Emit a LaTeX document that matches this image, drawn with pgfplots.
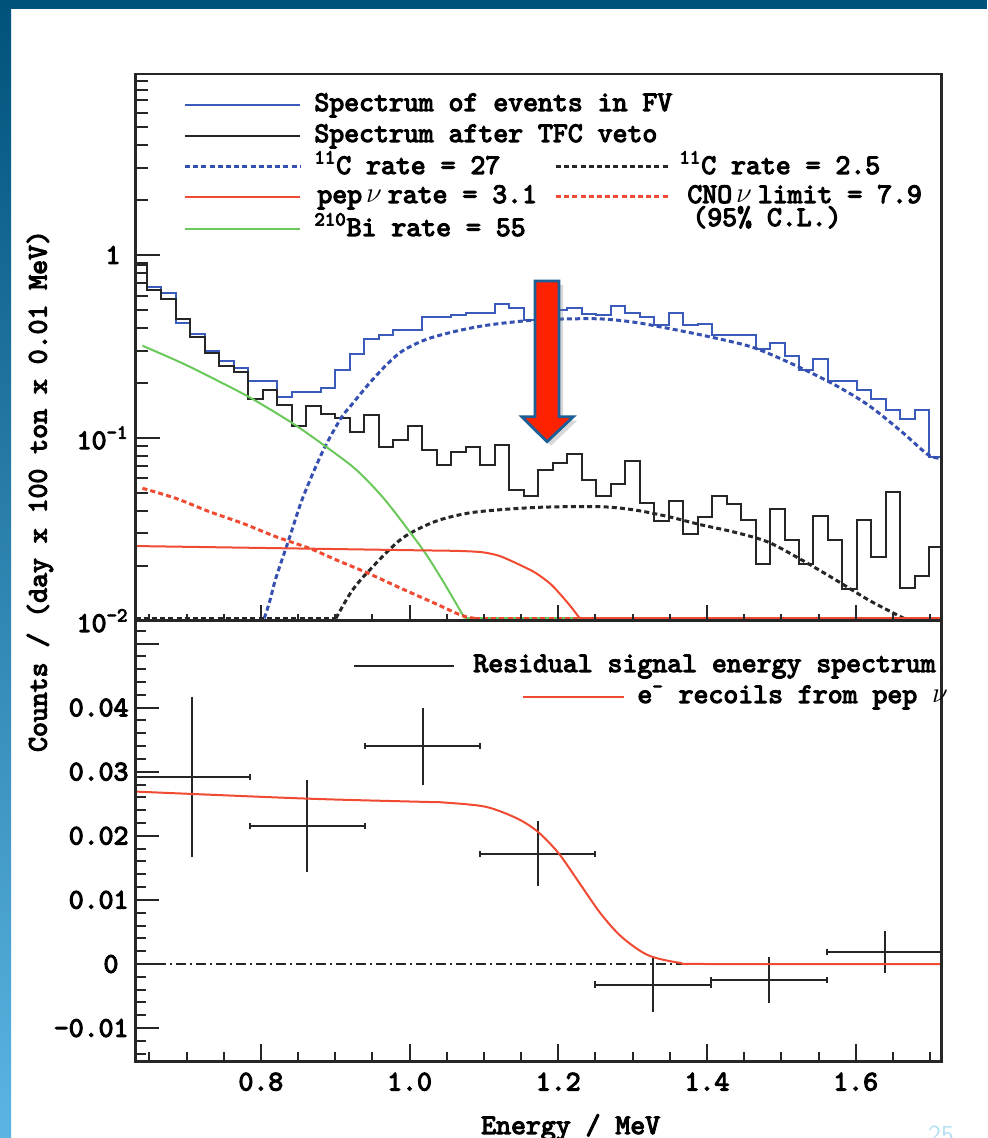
\documentclass[border=0pt]{standalone}
\usepackage{fontspec}
\usepackage{pgfplots}
\pgfplotsset{compat=1.18}
\usepackage{pgfplotstable}
\usetikzlibrary{shadows}

\newfontfamily\rootmono{lmmono10-regular.otf}[FakeBold=4]

\definecolor{fvblue}{HTML}{3B5BBA}
\definecolor{cblue}{HTML}{3550B0}
\definecolor{peprd}{HTML}{F04A32}
\definecolor{bigreen}{HTML}{6BC85A}
\definecolor{slide}{HTML}{00527C}
\definecolor{slidelt}{HTML}{5BB4E2}
\definecolor{arrowred}{HTML}{FF2200}
\definecolor{arrowedge}{HTML}{1C5E96}
\definecolor{pagenum}{HTML}{B5DFF3}

\newcommand\rf{\fontsize{14.2}{16}\selectfont\rootmono}
\newcommand\nuu{{\normalfont$\nu$}}
\newcommand\tsup[1]{\smash{\textsuperscript{#1}}}

% bin left edge, spectrum in FV, spectrum after TFC veto
\pgfplotstableread{
x      fv      tfc
0.6273 0.880   0.880
0.6468 0.671   0.644
0.6663 0.617   0.575
0.6858 0.423   0.445
0.7053 0.372   0.355
0.7248 0.2985  0.290
0.7442 0.263   0.248
0.7637 0.242   0.228
0.7832 0.2046  0.163
0.8027 0.2046  0.183
0.8222 0.168   0.151
0.8417 0.1775  0.1165
0.8612 0.1775  0.150
0.8807 0.188   0.1345
0.9001 0.235   0.129
0.9196 0.2864  0.108
0.9391 0.346   0.1334
0.9586 0.365   0.0895
0.9781 0.389   0.0973
0.9976 0.389   0.1166
1.0171 0.460   0.0858
1.0366 0.460   0.0710
1.0560 0.470   0.0840
1.0755 0.484   0.0895
1.0950 0.484   0.0710
1.1145 0.537   0.0914
1.1340 0.515   0.0519
1.1535 0.441   0.0483
1.1730 0.490   0.0667
1.1925 0.500   0.0726
1.2120 0.515   0.0813
1.2314 0.476   0.0588
1.2509 0.470   0.0483
1.2704 0.526   0.0557
1.2899 0.480   0.0747
1.3094 0.460   0.0439
1.3289 0.414   0.0351
1.3484 0.484   0.0453
1.3679 0.414   0.0297
1.3873 0.419   0.0371
1.4068 0.365   0.0483
1.4263 0.365   0.0433
1.4458 0.365   0.0355
1.4653 0.305   0.0203
1.4848 0.329   0.0407
1.5043 0.280   0.0276
1.5238 0.235   0.0203
1.5432 0.269   0.0374
1.5627 0.2053  0.0276
1.5822 0.2053  0.0149
1.6017 0.1827  0.0355
1.6212 0.163   0.0224
1.6407 0.142   0.0508
1.6602 0.1268  0.01504
1.6797 0.142   0.01762
1.6992 0.0789  0.0254
1.7186 0.0789  0.0254
}\hist

% residual spectrum: centre, value, half width, error
\pgfplotstableread{
x      y        ex     ey
0.7080 0.0292   0.0776 0.0121
0.8626 0.0215   0.0776 0.0068
1.0175 0.0340   0.0776 0.0056
1.1724 0.0172   0.0776 0.0047
1.3272 -0.0032  0.0776 0.0039
1.4834 -0.0025  0.0776 0.0032
1.6391 0.0019   0.0776 0.0029
}\resid

\tikzset{dots/.style={line width=1.5pt, dash pattern=on 2.5pt off 1.6pt}}
\pgfplotsset{rootax/.style={scale only axis, width=403.1pt, anchor=south west,
  xmin=0.6314, xmax=1.7157, tick align=inside, tick pos=left,
  axis line style={line width=1.3pt, black!85}, tick style={line width=1pt, black!85},
  tick label style={font=\rf}}}

\begin{document}
\begin{tikzpicture}
\useasboundingbox (0,0) rectangle (493.5pt,569pt);
\fill[white] (0,0) rectangle (493.5pt,569pt);
\shade[top color=slide, bottom color=slidelt] (0,0) rectangle (5.5pt,569pt);
\fill[slide] (0,564.5pt) rectangle (493.5pt,569pt);

% upper pad
\begin{axis}[rootax, at={(67.75pt,258.65pt)}, height=273.35pt, axis on top,
  ymode=log, ymin=0.01, ymax=9.77, xtick=\empty,
  ytick={0.01,0.1,1}, yticklabels={10\textsuperscript{-2},10\textsuperscript{-1},1\kern4pt},
  minor ytick={0.02,0.03,0.04,0.05,0.06,0.07,0.08,0.09,0.2,0.3,0.4,0.5,0.6,0.7,0.8,0.9,2,3,4,5,6,7,8,9},
  major tick length=12.5pt, minor tick length=6.2pt]
\addplot[const plot, fvblue, line width=1pt] table[x=x,y=fv] {\hist};
\addplot[const plot, black!85, line width=1pt] table[x=x,y=tfc] {\hist};
% 11C, rate 27
\addplot[dots, cblue] coordinates {(0.6314,0.0103) (0.8046,0.0103)};
\addplot[dots, cblue, smooth] coordinates {(0.8046,0.0103) (0.8120,0.0128) (0.8202,0.0171) (0.8382,0.0282) (0.8561,0.0467) (0.8830,0.084) (0.9077,0.128) (0.9217,0.151) (0.9440,0.1946) (0.9665,0.245) (0.9890,0.296) (1.0203,0.343) (1.0563,0.378) (1.0921,0.4055) (1.1236,0.423) (1.1684,0.441) (1.2100,0.447) (1.2581,0.447) (1.3030,0.4285) (1.3478,0.397) (1.3927,0.365) (1.4510,0.322) (1.4824,0.290) (1.5273,0.240) (1.5722,0.1946) (1.6170,0.151) (1.6619,0.108) (1.6977,0.0806) (1.7157,0.0773)};
% 11C, rate 2.5
\addplot[dots, black!85] coordinates {(0.6314,0.0103) (0.9009,0.0103)};
\addplot[dots, black!85, smooth] coordinates {(0.9009,0.0103) (0.9217,0.0144) (0.9440,0.0185) (0.9890,0.0280) (1.0338,0.0348) (1.0780,0.0387) (1.1236,0.0405) (1.1820,0.0418) (1.2581,0.0420) (1.3030,0.0403) (1.3478,0.0371) (1.3927,0.0334) (1.4370,0.0305) (1.4824,0.0269) (1.5273,0.0215) (1.5722,0.0168) (1.6170,0.0130) (1.6510,0.0110) (1.6650,0.0103)};
\addplot[dots, black!85] coordinates {(1.6650,0.0103) (1.7157,0.0103)};
% 210Bi
\addplot[bigreen, line width=1pt, smooth] coordinates {(0.6408,0.319) (0.6946,0.2557) (0.7400,0.2072) (0.7871,0.1646) (0.8427,0.1201) (0.8875,0.0895) (0.9217,0.0705) (0.9440,0.0580) (0.9665,0.0460) (0.9890,0.0352) (1.0203,0.0237) (1.0428,0.0170) (1.0607,0.0128) (1.0742,0.0103)};
\addplot[bigreen, line width=1pt] coordinates {(1.0742,0.0103) (1.7157,0.0103)};
% CNO limit
\addplot[dots, peprd, smooth] coordinates {(0.6408,0.0530) (0.6856,0.0467) (0.7306,0.0395) (0.7754,0.0341) (0.8202,0.0288) (0.8651,0.0249) (0.9050,0.0212) (0.9440,0.0182) (0.9890,0.0150) (1.0338,0.01245) (1.0697,0.0107) (1.0876,0.0103)};
\addplot[dots, peprd] coordinates {(1.0876,0.0103) (1.7157,0.0103)};
% pep
\addplot[peprd, line width=1pt, smooth] coordinates {(0.6314,0.0256) (0.8000,0.0250) (1.0000,0.0243) (1.0600,0.0241) (1.0921,0.0238) (1.1080,0.0233) (1.1236,0.0224) (1.1505,0.0200) (1.1700,0.0182) (1.1909,0.0157) (1.2132,0.01245) (1.2290,0.0103)};
\addplot[peprd, line width=1pt] coordinates {(1.2290,0.0103) (1.7157,0.0103)};
\end{axis}
\begin{axis}[rootax, at={(67.75pt,258.65pt)}, height=273.35pt, ymin=0, ymax=1, ytick=\empty,
  xtick={0.8,1.0,1.2,1.4,1.6}, xticklabels={},
  minor xtick={0.65,0.7,0.75,0.85,0.9,0.95,1.05,1.1,1.15,1.25,1.3,1.35,1.45,1.5,1.55,1.65,1.7},
  major tick length=8pt, minor tick length=3.5pt]
\end{axis}

% lower pad
\begin{axis}[rootax, at={(67.75pt,38.15pt)}, height=220.5pt, axis on top,
  ymin=-0.01524, ymax=0.05356, xtick=\empty, scaled y ticks=false,
  ytick={-0.01,0,0.01,0.02,0.03,0.04,0.05},
  yticklabels={-0.01,0\kern5pt,0.01,0.02,0.03,0.04,{}},
  minor ytick={-0.014,-0.012,-0.008,-0.006,-0.004,-0.002,0.002,0.004,0.006,0.008,0.012,0.014,0.016,0.018,0.022,0.024,0.026,0.028,0.032,0.034,0.036,0.038,0.042,0.044,0.046,0.048,0.052},
  major tick length=12pt, minor tick length=5pt]
\addplot[black!85, line width=0.8pt, dash pattern=on 5pt off 2pt on 1pt off 2pt] coordinates {(0.6314,0) (1.7157,0)};
\addplot[black!85, only marks, mark=*, mark size=0pt,
  error bars/.cd, y dir=both, y explicit, error mark=-,
  error bar style={line width=1pt, black!85},
  error mark options={line width=1pt, black!85, mark size=1.3pt}]
  table[x=x, y=y, y error=ey] {\resid};
\addplot[black!85, only marks, mark=*, mark size=0pt,
  error bars/.cd, x dir=both, x explicit, error mark=|,
  error bar style={line width=1pt, black!85},
  error mark options={line width=1pt, black!85, mark size=1.6pt}]
  table[x=x, y=y, x error=ex] {\resid};
\addplot[peprd, line width=1pt, smooth, tension=0.5] coordinates {(0.6314,0.0269) (0.8626,0.0258) (1.0175,0.0253) (1.0456,0.0252) (1.1019,0.02454) (1.1442,0.02273) (1.1724,0.02064) (1.2005,0.01727) (1.2287,0.01259) (1.2568,0.0079) (1.2849,0.00426) (1.3202,0.0014) (1.3625,0.0002) (1.4000,0) (1.7157,0)};
\end{axis}
\begin{axis}[rootax, at={(67.75pt,38.15pt)}, height=220.5pt, ymin=0, ymax=1, ytick=\empty,
  xtick={0.8,1.0,1.2,1.4,1.6}, xticklabels={0.8,1.0,1.2,1.4,1.6},
  minor xtick={0.65,0.7,0.75,0.85,0.9,0.95,1.05,1.1,1.15,1.25,1.3,1.35,1.45,1.5,1.55,1.65,1.7},
  major tick length=9pt, minor tick length=5pt, xticklabel style={yshift=-2pt}]
\end{axis}

% legends, labels, arrow (coordinates in pixels of the reference)
\begin{scope}[x=0.5pt, y=-0.5pt, shift={(0,569pt)}, every node/.style={font=\rf, inner sep=0pt}]
\draw[fvblue, line width=1pt] (185,105) -- (300,105);
\node[anchor=base west] at (314,111) {Spectrum of events in FV};
\draw[black!85, line width=1pt] (185,136) -- (300,136);
\node[anchor=base west] at (314,142) {Spectrum after TFC veto};
\draw[cblue, dots] (185,167) -- (300,167);
\node[anchor=base west] at (314,174) {\tsup{11}C rate = 27};
\draw[black!85, dots] (556,167) -- (669,167);
\node[anchor=base west] at (679,174) {\tsup{11}C rate = 2.5};
\draw[peprd, line width=1pt] (185,197) -- (300,197);
\node[anchor=base west] at (317,203) {pep\kern2pt\nuu\kern3pt rate = 3.1};
\draw[peprd, dots] (556,197) -- (669,197);
\node[anchor=base west] at (687,203) {CNO\kern2pt\nuu\kern3pt limit = 7.9};
\draw[bigreen, line width=1pt] (185,229) -- (300,229);
\node[anchor=base west] at (314,236) {\tsup{210}Bi rate = 55};
\node[anchor=base west] at (692,226) {(95\% C.L.)};

\draw[black!85, line width=1pt] (354,666) -- (454,666);
\node[anchor=base west] at (473,672) {Residual signal energy spectrum};
\draw[peprd, line width=1pt] (523,697) -- (624,697);
\node[anchor=base west] at (637,703) {e\tsup{-} recoils from pep \nuu};

\node[anchor=base] at (570.7,1134) {Energy / MeV};
\node[rotate=90] at (40,491) {Counts / (day x 100 ton x 0.01 MeV)};

\draw[arrowedge, line width=1.4pt, fill=arrowred, drop shadow={opacity=0.3, shadow xshift=2pt, shadow yshift=-2pt}]
  (535,281) -- (559,281) -- (559,416.7) -- (573.3,416.7) -- (547,441.7) -- (521.7,416.7) -- (535,416.7) -- cycle;

\node[anchor=north, text=pagenum, font=\sffamily\fontsize{13}{15}\selectfont] at (941,1126) {25};
\end{scope}
\end{tikzpicture}
\end{document}
